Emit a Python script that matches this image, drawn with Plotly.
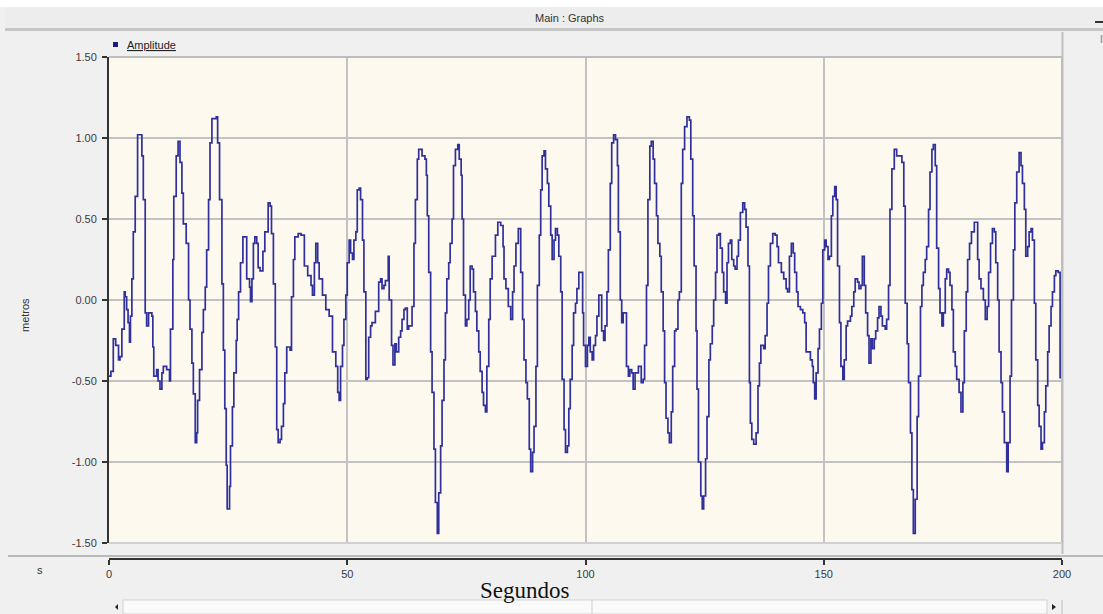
import plotly.graph_objects as go

# ---------------- data ----------------
time_s_0_40 = [0.0, 0.4, 0.9, 1.4, 2.0, 2.3, 2.7, 3.2, 3.4, 3.7,
               4.0, 4.3, 4.5, 4.8, 5.1, 5.5, 6.0, 6.5, 6.9, 7.2,
               7.6, 7.9, 8.3, 9.0, 9.2, 9.4, 10.0, 10.3, 10.7, 11.1,
               11.4, 12.1, 12.7, 12.9, 13.4, 13.6, 14.1, 14.5, 14.9, 15.3,
               15.6, 16.2, 16.7, 17.0, 17.4, 17.7, 18.1, 18.4, 18.6, 19.0,
               19.5, 19.8, 20.2, 20.5, 20.9, 21.2, 21.6, 22.5, 22.8, 23.2,
               23.7, 24.0, 24.3, 24.6, 24.8, 25.3, 25.5, 25.9, 26.2, 26.7,
               26.9, 27.2, 27.6, 28.1, 28.5, 28.9, 29.5, 29.7, 30.0, 30.3,
               30.6, 31.0, 31.3, 31.7, 32.3, 32.7, 33.4, 33.8, 34.1, 34.5,
               34.9, 35.2, 35.5, 35.9, 36.2, 36.6, 36.9, 37.3, 37.6, 38.0,
               38.3, 38.7, 39.0, 39.7]
amp_m_0_40 = [-0.47, -0.44, -0.24, -0.28, -0.37, -0.35, -0.18, 0.05, 0.02, -0.06,
              -0.14, -0.26, -0.10, 0.13, 0.42, 0.64, 1.02, 1.02, 0.89, 0.62,
              -0.08, -0.16, -0.08, -0.10, -0.29, -0.47, -0.43, -0.50, -0.55, -0.45,
              -0.41, -0.43, -0.50, -0.18, 0.25, 0.64, 0.89, 0.98, 0.85, 0.66,
              0.47, 0.35, 0.00, -0.18, -0.39, -0.58, -0.88, -0.82, -0.62, -0.43,
              -0.20, -0.06, 0.08, 0.31, 0.62, 0.97, 1.12, 1.13, 0.97, 0.62,
              0.10, -0.31, -0.67, -1.02, -1.29, -1.15, -0.90, -0.66, -0.45, -0.25,
              -0.12, 0.05, 0.23, 0.39, 0.39, 0.13, 0.08, -0.01, 0.13, 0.35,
              0.39, 0.35, 0.20, 0.18, 0.30, 0.42, 0.60, 0.58, 0.41, 0.10,
              -0.29, -0.80, -0.88, -0.86, -0.78, -0.64, -0.45, -0.29, -0.29, -0.31,
              0.02, 0.25, 0.39, 0.41]

time_s_40_82 = [40.3, 41.0, 41.7, 42.4, 42.7, 43.1, 43.4, 43.8, 44.1, 44.8,
                45.5, 46.2, 46.9, 47.6, 48.0, 48.3, 48.6, 49.0, 49.3, 49.7,
                50.0, 50.4, 50.7, 51.1, 51.4, 51.8, 52.1, 52.5, 52.8, 53.2,
                53.5, 53.9, 54.2, 54.5, 54.9, 55.2, 55.9, 56.6, 57.0, 57.3,
                57.7, 58.0, 58.6, 58.8, 59.3, 59.6, 60.0, 60.3, 60.8, 61.2,
                61.5, 61.9, 62.2, 62.6, 62.9, 63.6, 64.0, 64.3, 64.7, 65.0,
                65.7, 66.3, 66.6, 66.8, 67.1, 67.5, 67.8, 68.2, 68.5, 68.9,
                69.2, 69.6, 69.9, 70.3, 70.6, 70.9, 71.3, 71.6, 72.0, 72.3,
                72.7, 73.2, 73.5, 73.9, 74.1, 74.4, 74.8, 75.1, 75.5, 75.8,
                76.2, 76.5, 76.9, 77.2, 77.6, 77.9, 78.3, 78.6, 79.0, 79.3,
                79.7, 80.0, 80.4, 81.1, 81.6]
amp_m_40_82 = [0.40, 0.21, 0.15, 0.09, 0.03, 0.23, 0.35, 0.23, 0.13, 0.03,
               -0.06, -0.10, -0.32, -0.41, -0.57, -0.62, -0.41, -0.28, -0.12, 0.03,
               0.23, 0.37, 0.29, 0.25, 0.37, 0.42, 0.68, 0.69, 0.62, 0.37,
               0.05, -0.49, -0.48, -0.23, -0.16, -0.14, -0.07, 0.11, 0.13, 0.07,
               0.09, 0.12, 0.27, 0.00, -0.28, -0.40, -0.27, -0.32, -0.23, -0.19,
               -0.12, -0.06, -0.05, -0.18, -0.16, -0.04, 0.35, 0.62, 0.87, 0.93,
               0.89, 0.87, 0.77, 0.52, 0.17, -0.32, -0.57, -0.92, -1.25, -1.44,
               -1.19, -0.90, -0.62, -0.37, -0.08, 0.13, 0.23, 0.35, 0.50, 0.83,
               0.93, 0.96, 0.87, 0.77, 0.50, 0.03, -0.16, -0.12, 0.00, 0.21,
               0.19, 0.05, -0.07, -0.19, -0.32, -0.44, -0.57, -0.65, -0.69, -0.41,
               -0.12, 0.13, 0.27, 0.40, 0.48]

time_s_82_124 = [82.2, 82.7, 82.9, 83.3, 83.8, 84.3, 84.7, 85.0, 85.4, 85.9,
                 86.2, 86.4, 86.8, 87.1, 87.5, 87.8, 88.2, 88.5, 88.9, 89.2,
                 89.6, 89.9, 90.3, 90.6, 90.9, 91.3, 91.6, 92.0, 92.3, 92.7,
                 93.0, 93.4, 93.7, 94.1, 94.4, 94.8, 95.1, 95.5, 95.8, 96.2,
                 96.5, 96.8, 97.2, 97.5, 97.9, 98.2, 98.6, 99.2, 99.4, 99.6,
                 100.0, 100.4, 100.7, 101.0, 101.4, 101.7, 102.1, 102.4, 102.8, 103.1,
                 103.4, 103.8, 104.1, 104.5, 104.8, 105.2, 105.5, 105.9, 106.3, 106.7,
                 106.9, 107.3, 107.6, 107.9, 108.3, 108.6, 109.0, 109.3, 109.7, 110.0,
                 110.4, 111.1, 111.4, 111.7, 112.1, 112.4, 112.8, 113.1, 113.5, 113.8,
                 114.2, 114.5, 114.9, 115.2, 115.6, 115.9, 116.3, 116.6, 116.9, 117.3,
                 117.6, 118.0, 118.3, 118.7, 119.0, 119.4, 119.7, 120.1, 120.4, 120.8,
                 121.3, 121.8, 122.1, 122.5, 122.8, 123.2, 123.4, 123.7]
amp_m_82_124 = [0.46, 0.33, 0.13, 0.07, -0.04, -0.12, 0.05, 0.21, 0.35, 0.44,
                0.44, 0.17, -0.12, -0.37, -0.51, -0.61, -0.92, -1.06, -0.94, -0.78,
                -0.41, 0.09, 0.40, 0.68, 0.89, 0.92, 0.81, 0.72, 0.58, 0.40,
                0.25, 0.37, 0.44, 0.40, 0.27, 0.05, -0.49, -0.80, -0.94, -0.90,
                -0.67, -0.49, -0.28, -0.08, -0.02, 0.07, 0.17, 0.17, -0.08, -0.28,
                -0.41, -0.28, -0.23, -0.32, -0.37, -0.28, -0.22, -0.10, 0.03, 0.03,
                -0.19, -0.25, -0.16, 0.05, 0.31, 0.72, 0.97, 1.02, 0.99, 0.83,
                0.42, 0.00, -0.14, -0.08, -0.08, -0.41, -0.47, -0.43, -0.45, -0.55,
                -0.45, -0.41, -0.41, -0.51, -0.49, -0.28, 0.09, 0.62, 0.95, 0.98,
                0.87, 0.72, 0.52, 0.35, 0.27, 0.05, -0.19, -0.51, -0.73, -0.82,
                -0.88, -0.69, -0.41, -0.19, -0.18, 0.00, 0.05, 0.72, 0.93, 1.07,
                1.13, 1.11, 0.87, 0.52, 0.21, -0.19, -0.55, -1.00]

time_s_124_166 = [124.2, 124.5, 124.8, 125.2, 125.5, 125.9, 126.2, 126.6, 126.9, 127.3,
                  127.6, 128.0, 128.3, 128.7, 129.0, 129.4, 129.7, 130.0, 130.4, 130.7,
                  131.1, 131.4, 131.8, 132.1, 132.5, 133.0, 133.4, 133.7, 134.1, 134.4,
                  134.6, 134.9, 135.3, 135.8, 136.2, 136.5, 136.8, 137.4, 137.7, 138.1,
                  138.4, 138.8, 139.3, 139.8, 140.2, 140.5, 141.1, 141.6, 142.1, 142.4,
                  142.8, 143.2, 143.6, 143.9, 144.3, 144.6, 145.1, 145.6, 146.0, 146.3,
                  146.9, 147.2, 147.6, 147.8, 148.1, 148.4, 148.8, 149.1, 149.5, 149.8,
                  150.2, 150.5, 150.9, 151.2, 151.6, 151.9, 152.3, 152.6, 152.9, 153.3,
                  153.6, 154.0, 154.3, 154.7, 155.0, 155.6, 155.9, 156.3, 156.6, 157.1,
                  157.4, 157.8, 158.1, 158.5, 158.8, 159.2, 159.5, 159.9, 160.2, 160.6,
                  160.9, 161.3, 161.6, 162.0, 162.3, 162.9, 163.2, 163.6, 163.9, 164.3,
                  164.8, 165.3]
amp_m_124_166 = [-1.21, -1.29, -1.21, -0.98, -0.72, -0.37, -0.27, -0.16, 0.00, 0.17,
                 0.40, 0.41, 0.32, 0.17, 0.05, -0.02, 0.23, 0.35, 0.37, 0.25,
                 0.21, 0.19, 0.27, 0.37, 0.54, 0.60, 0.56, 0.45, 0.21, -0.51,
                 -0.76, -0.86, -0.89, -0.82, -0.53, -0.39, -0.28, -0.30, -0.22, -0.02,
                 0.21, 0.35, 0.41, 0.40, 0.33, 0.23, 0.17, 0.13, 0.07, 0.05,
                 0.27, 0.35, 0.29, 0.17, 0.05, -0.04, -0.06, -0.08, -0.14, -0.32,
                 -0.32, -0.37, -0.41, -0.51, -0.61, -0.45, -0.30, -0.18, -0.02, 0.31,
                 0.37, 0.33, 0.25, 0.27, 0.52, 0.64, 0.70, 0.62, 0.21, -0.14,
                 -0.41, -0.49, -0.37, -0.16, -0.13, -0.10, -0.04, 0.05, 0.13, 0.11,
                 0.07, 0.09, 0.27, 0.09, -0.08, -0.22, -0.39, -0.24, -0.30, -0.24,
                 -0.19, -0.11, -0.04, -0.10, -0.16, -0.18, -0.12, 0.09, 0.56, 0.81,
                 0.93, 0.89]

time_s_166_200 = [165.7, 166.4, 166.8, 167.1, 167.5, 167.8, 168.2, 168.5, 168.8, 169.2,
                  169.6, 169.9, 170.3, 170.6, 170.9, 171.3, 171.6, 172.0, 172.3, 172.7,
                  173.0, 173.4, 173.7, 174.1, 174.4, 174.8, 175.1, 175.5, 175.8, 176.2,
                  176.5, 176.9, 177.2, 177.6, 177.9, 178.4, 178.8, 179.2, 179.5, 179.9,
                  180.2, 180.6, 181.0, 181.6, 181.9, 182.3, 182.6, 183.0, 183.5, 183.9,
                  184.3, 184.6, 185.0, 185.4, 185.8, 186.1, 186.5, 186.8, 187.2, 187.5,
                  187.9, 188.4, 188.7, 189.1, 189.4, 189.8, 190.1, 190.5, 191.0, 191.4,
                  191.7, 192.1, 192.4, 192.8, 193.1, 193.5, 193.8, 194.2, 194.5, 194.9,
                  195.2, 195.6, 195.9, 196.3, 196.6, 197.0, 197.3, 197.7, 198.0, 198.4,
                  198.7, 199.2, 199.6, 200.0]
amp_m_166_200 = [0.89, 0.85, 0.58, -0.02, -0.27, -0.51, -0.82, -1.17, -1.44, -1.23,
                 -0.72, -0.47, -0.04, 0.09, 0.17, 0.25, 0.33, 0.56, 0.79, 0.93,
                 0.96, 0.83, 0.32, 0.07, -0.08, -0.16, -0.08, 0.13, 0.19, 0.17,
                 0.09, -0.06, -0.32, -0.41, -0.49, -0.57, -0.69, -0.51, -0.19, 0.05,
                 0.25, 0.35, 0.42, 0.48, 0.48, 0.25, 0.13, 0.07, 0.00, -0.12,
                 -0.04, 0.17, 0.35, 0.44, 0.42, 0.23, 0.00, -0.32, -0.51, -0.69,
                 -0.88, -1.06, -0.88, -0.47, 0.00, 0.31, 0.60, 0.79, 0.91, 0.83,
                 0.72, 0.56, 0.27, 0.33, 0.42, 0.44, 0.37, -0.02, -0.37, -0.65,
                 -0.78, -0.92, -0.88, -0.69, -0.53, -0.32, -0.16, -0.04, 0.05, 0.15,
                 0.18, 0.17, -0.48, -0.48]

y_tick_values = [-1.5, -1.0, -0.5, 0.0, 0.5, 1.0, 1.5]
y_tick_labels = ["-1.50", "-1.00", "-0.50", "0.00", "0.50", "1.00", "1.50"]
x_tick_values = [0, 50, 100, 150, 200]
x_tick_labels = ["0", "50", "100", "150", "200"]

time_s = time_s_0_40 + time_s_40_82 + time_s_82_124 + time_s_124_166 + time_s_166_200
amplitude_m = amp_m_0_40 + amp_m_40_82 + amp_m_82_124 + amp_m_124_166 + amp_m_166_200

# ---------------- geometry helpers (pixel -> paper) ----------------
W, H = 1103, 614
L, R, T, B = 109, 1062, 57, 559      # plotting area in pixels
PLOT_BOTTOM = 543


def PX(x):
    return (x - L) / (R - L)


def PY(y):
    return (B - y) / (B - T)


TICK_FONT = dict(family="Liberation Sans, Arial, sans-serif", size=11, color="#3a3a3a")
GRID = "#c2c2c2"
DARK = "#333333"

fig = go.Figure()
fig.add_trace(go.Scatter(
    x=time_s, y=amplitude_m, mode="lines", name="Amplitude",
    line=dict(color="#30309c", width=1.7, shape="hv"),
    showlegend=False, hoverinfo="skip",
))

ydom0 = PY(PLOT_BOTTOM)

fig.update_layout(
    width=W, height=H,
    margin=dict(l=L, r=W - R, t=T, b=H - B, pad=0),
    paper_bgcolor="#f0f0f0",
    plot_bgcolor="#fdf9ee",
    xaxis=dict(
        range=[0, 200], domain=[0, 1], anchor="free", position=0, side="bottom",
        tickvals=x_tick_values, ticktext=x_tick_labels,
        ticks="outside", ticklen=5, tickwidth=1.5, tickcolor=DARK,
        showline=True, linecolor=DARK, linewidth=2,
        showgrid=True, gridcolor=GRID, gridwidth=1.5,
        zeroline=False, tickfont=TICK_FONT,
    ),
    yaxis=dict(
        range=[-1.5, 1.5], domain=[ydom0, 1], anchor="x",
        tickvals=y_tick_values, ticktext=y_tick_labels,
        ticks="outside", ticklen=5, tickwidth=1.5, tickcolor=DARK,
        showline=True, linecolor=DARK, linewidth=2,
        showgrid=True, gridcolor=GRID, gridwidth=1.5,
        zeroline=False, tickfont=TICK_FONT, ticklabelstandoff=3,
    ),
)

shapes = []
# white top strip and title bar
shapes.append(dict(type="rect", xref="paper", yref="paper", x0=PX(0), x1=PX(W), y0=PY(7), y1=PY(0),
                   fillcolor="#ffffff", line=dict(width=0), layer="below"))
shapes.append(dict(type="rect", xref="paper", yref="paper", x0=PX(5), x1=PX(W), y0=PY(28), y1=PY(7),
                   fillcolor="#ededed", line=dict(width=0), layer="below"))
shapes.append(dict(type="line", xref="paper", yref="paper", x0=PX(5), x1=PX(W), y0=PY(29.5), y1=PY(29.5),
                   line=dict(color="#c6c6c6", width=3)))
# title-bar dash at the right
shapes.append(dict(type="line", xref="paper", yref="paper", x0=PX(1095), x1=PX(1103), y0=PY(22), y1=PY(22),
                   line=dict(color="#333333", width=2)))
shapes.append(dict(type="line", xref="paper", yref="paper", x0=PX(1101.5), x1=PX(1101.5), y0=PY(43), y1=PY(35),
                   line=dict(color="#9a9a9a", width=1.5)))
# legend panel right border
shapes.append(dict(type="line", xref="paper", yref="paper", x0=PX(1062.5), x1=PX(1062.5), y0=PY(554), y1=PY(32),
                   line=dict(color="#c0c0c0", width=2)))
# plot frame (top, right, bottom)
shapes.append(dict(type="line", xref="x domain", yref="y domain", x0=0, x1=1, y0=1, y1=1,
                   line=dict(color="#bdbdbd", width=2)))
shapes.append(dict(type="line", xref="x domain", yref="y domain", x0=1, x1=1, y0=0, y1=1,
                   line=dict(color="#bdbdbd", width=2)))
shapes.append(dict(type="line", xref="x domain", yref="y domain", x0=0, x1=1, y0=0, y1=0,
                   line=dict(color="#d0d0d0", width=2)))
# separator line above the time axis
shapes.append(dict(type="line", xref="paper", yref="paper", x0=PX(8), x1=PX(W), y0=PY(556), y1=PY(556),
                   line=dict(color="#a8a8a8", width=1.5)))
# legend square marker
shapes.append(dict(type="rect", xref="paper", yref="paper", x0=PX(113), x1=PX(118), y0=PY(47), y1=PY(42),
                   fillcolor="#1a1a8c", line=dict(width=0)))
# bottom scrollbar
shapes.append(dict(type="rect", xref="paper", yref="paper", x0=PX(123), x1=PX(1047), y0=PY(614), y1=PY(600),
                   fillcolor="#fafafa", line=dict(color="#d2d2d2", width=1)))
shapes.append(dict(type="line", xref="paper", yref="paper", x0=PX(592), x1=PX(592), y0=PY(614), y1=PY(600),
                   line=dict(color="#cfcfcf", width=1)))
shapes.append(dict(type="line", xref="paper", yref="paper", x0=PX(1062), x1=PX(1062), y0=PY(614), y1=PY(600),
                   line=dict(color="#bdbdbd", width=1)))
shapes.append(dict(type="path", xref="paper", yref="paper",
                   path="M {a},{b} L {c},{d} L {a},{e} Z".format(a=PX(118), b=PY(604), c=PX(115), d=PY(607), e=PY(610)),
                   fillcolor="#222222", line=dict(width=0)))
shapes.append(dict(type="path", xref="paper", yref="paper",
                   path="M {a},{b} L {c},{d} L {a},{e} Z".format(a=PX(1052), b=PY(604), c=PX(1056), d=PY(607), e=PY(610)),
                   fillcolor="#222222", line=dict(width=0)))
fig.update_layout(shapes=shapes)

SANS = "Liberation Sans, Arial, sans-serif"
annotations = [
    dict(text="Main : Graphs", x=PX(570), y=PY(18),
         font=dict(family=SANS, size=11, color="#333333")),
    dict(text="<u>Amplitude</u>", x=PX(125), y=PY(45), xanchor="left",
         font=dict(family=SANS, size=11, color="#222222")),
    dict(text="metros", x=PX(25), y=PY(315), textangle=-90,
         font=dict(family=SANS, size=11, color="#333333")),
    dict(text="s", x=PX(40), y=PY(570),
         font=dict(family=SANS, size=11, color="#333333")),
    dict(text="Segundos", x=PX(525), y=PY(590),
         font=dict(family="Liberation Serif, Times New Roman, serif", size=23, color="#111111")),
]
for a in annotations:
    a.setdefault("xanchor", "center")
    a["yanchor"] = "middle"
    a["xref"] = "paper"
    a["yref"] = "paper"
    a["showarrow"] = False
fig.update_layout(annotations=annotations)

fig.write_html("out.html")
